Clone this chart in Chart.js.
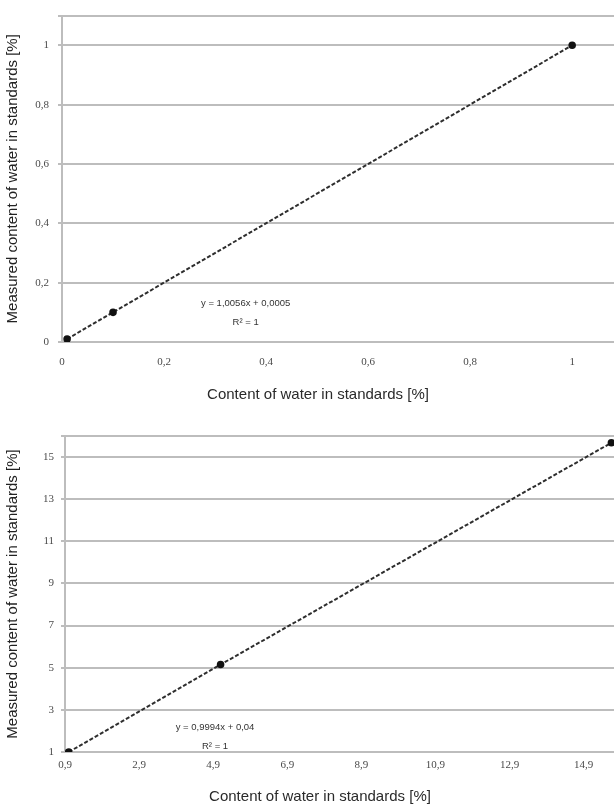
<!DOCTYPE html>
<html lang="en">
<head>
  <meta charset="UTF-8" />
  <title>Water content calibration</title>
  <style>
    body { margin: 0; background: #fff; overflow: hidden; width: 614px; }
    .box { position: relative; width: 620px; }
    #top { height: 410px; }
    #bottom { height: 396px; }
  </style>
</head>
<body>
  <div class="box" id="top"><canvas id="c1"></canvas></div>
  <div class="box" id="bottom"><canvas id="c2"></canvas></div>

  <script src="https://cdn.jsdelivr.net/npm/chart.js"></script>
  <script>
    // top chart: low range standards
    const topX = [0.01, 0.1, 1.0];
    const topY = [0.01, 0.1, 1.0];
    const topXTicks = [0, 0.2, 0.4, 0.6, 0.8, 1];
    const topYTicks = [0, 0.2, 0.4, 0.6, 0.8, 1];
    const topEquation = ['y = 1,0056x + 0,0005', 'R² = 1'];

    // bottom chart: high range standards
    const botX = [1.0, 5.1, 15.65];
    const botY = [1.0, 5.15, 15.68];
    const botXTicks = [0.9, 2.9, 4.9, 6.9, 8.9, 10.9, 12.9, 14.9];
    const botYTicks = [1, 3, 5, 7, 9, 11, 13, 15];
    const botEquation = ['y = 0,9994x + 0,04', 'R² = 1'];

    const xTitle = 'Content of water in standards [%]';
    const yTitle = 'Measured content of water in standards [%]';

    const gridColor = '#bdbdbd';
    const tickFont = { family: '"Liberation Serif", serif', size: 11 };
    const titleFont = { family: '"Liberation Sans", Arial, sans-serif', size: 15 };

    const fmt = v => String(Number(v.toFixed(2))).replace('.', ',');

    // draws the trendline equation and the x axis title
    const notes = {
      id: 'notes',
      afterDraw(chart, args, opts) {
        const { ctx, scales } = chart;
        ctx.save();
        ctx.fillStyle = '#333';
        ctx.textAlign = 'center';
        ctx.textBaseline = 'middle';
        ctx.font = '9.5px "Liberation Sans", Arial, sans-serif';
        const px = scales.x.getPixelForValue(opts.eqX);
        const py = scales.y.getPixelForValue(opts.eqY);
        opts.lines.forEach((t, i) => ctx.fillText(t, px, py + i * 19));
        ctx.fillStyle = '#2a2a2a';
        ctx.font = '15px "Liberation Sans", Arial, sans-serif';
        ctx.fillText(xTitle, opts.titleX, opts.titleY);
        ctx.restore();
      }
    };

    function makeChart(id, xs, ys, xTicks, yTicks, o) {
      const chart = new Chart(document.getElementById(id), {
        type: 'scatter',
        data: {
          datasets: [{
            data: xs.map((x, i) => ({ x: x, y: ys[i] })),
            showLine: true,
            borderColor: '#2e2e2e',
            borderWidth: 2,
            borderDash: [4, 2],
            pointRadius: 2.8,
            pointBackgroundColor: '#111',
            pointBorderColor: '#111'
          }]
        },
        options: {
          responsive: true,
          maintainAspectRatio: false,
          animation: false,
          layout: { padding: { top: o.padTop, right: 0, left: 0, bottom: 0 } },
          plugins: {
            legend: { display: false },
            tooltip: { enabled: false },
            notes: { lines: o.lines, eqX: o.eqX, eqY: o.eqY, titleX: o.titleX, titleY: o.titleY }
          },
          scales: {
            x: {
              type: 'linear',
              min: o.xMin, max: o.xMax,
              afterBuildTicks: s => { s.ticks = xTicks.map(v => ({ value: v })); },
              afterFit: s => { s.height = o.xHeight; s.paddingRight = 0; },
              grid: { display: false, drawTicks: true, tickLength: 4, color: gridColor },
              border: { color: gridColor, width: 2 },
              ticks: { font: tickFont, color: '#4a4a4a', padding: o.xPad, maxRotation: 0, callback: v => fmt(v) }
            },
            y: {
              type: 'linear',
              min: o.yMin, max: o.yMax,
              afterBuildTicks: s => { s.ticks = yTicks.concat([o.yMax]).map(v => ({ value: v })); },
              afterFit: s => { s.width = o.yWidth; },
              grid: { color: gridColor, lineWidth: 2, tickLength: 4 },
              border: { color: gridColor, width: 2 },
              ticks: { font: tickFont, color: '#4a4a4a', padding: o.yPad,
                       callback: v => (v === o.yMax ? '' : fmt(v)) },
              title: { display: true, text: yTitle, font: titleFont, color: '#222', padding: { top: 4, bottom: 0 } }
            }
          }
        },
        plugins: [notes]
      });
      return chart;
    }

    makeChart('c1', topX, topY, topXTicks, topYTicks, {
      padTop: 15, xMin: 0, xMax: 1.082, yMin: 0, yMax: 1.1,
      xHeight: 68, yWidth: 62, xPad: 10, yPad: 9,
      lines: topEquation, eqX: 0.36, eqY: 0.13, titleX: 318, titleY: 395
    });

    makeChart('c2', botX, botY, botXTicks, botYTicks, {
      padTop: 26, xMin: 0.9, xMax: 15.72, yMin: 1, yMax: 16,
      xHeight: 54, yWidth: 65, xPad: 3, yPad: 7,
      lines: botEquation, eqX: 4.95, eqY: 2.19, titleX: 320, titleY: 387
    });
  </script>
</body>
</html>
